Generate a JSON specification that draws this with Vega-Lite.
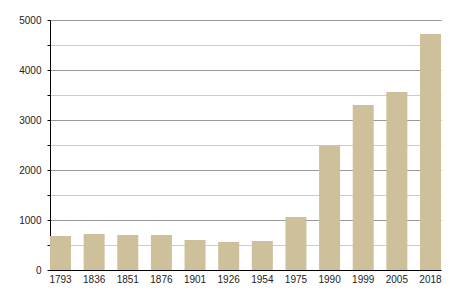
{
  "$schema": "https://vega.github.io/schema/vega-lite/v6.json",
  "width": 391,
  "height": 250,
  "autosize": "none",
  "padding": {"left": 50, "top": 20, "right": 9, "bottom": 30},
  "background": "white",
  "config": {"view": {"stroke": null}, "font": "Liberation Sans"},
  "data": {"values": [
    {"year": "1793", "value": 680},
    {"year": "1836", "value": 720},
    {"year": "1851", "value": 700},
    {"year": "1876", "value": 700},
    {"year": "1901", "value": 600},
    {"year": "1926", "value": 560},
    {"year": "1954", "value": 580},
    {"year": "1975", "value": 1060},
    {"year": "1990", "value": 2490},
    {"year": "1999", "value": 3300},
    {"year": "2005", "value": 3560},
    {"year": "2018", "value": 4720}
  ]},
  "mark": {"type": "bar", "color": "#cdc09a"},
  "encoding": {
    "x": {
      "field": "year", "type": "ordinal", "sort": null,
      "scale": {"paddingInner": 0.375, "paddingOuter": 0},
      "axis": {"title": null, "labelAngle": 0, "ticks": false, "domainColor": "#000", "labelFontSize": 10, "labelColor": "#222", "labelPadding": 4}
    },
    "y": {
      "field": "value", "type": "quantitative",
      "scale": {"domain": [0, 5000], "nice": false},
      "axis": {
        "title": null,
        "values": [0, 500, 1000, 1500, 2000, 2500, 3000, 3500, 4000, 4500, 5000],
        "labelExpr": "datum.value % 1000 === 0 ? datum.value : ''",
        "gridColor": {"condition": {"test": "datum.value % 1000 === 0", "value": "#999999"}, "value": "#cccccc"},
        "domainColor": "#000", "tickColor": "#000", "tickSize": 3,
        "labelFontSize": 10, "labelColor": "#222", "labelPadding": 6
      }
    }
  }
}
